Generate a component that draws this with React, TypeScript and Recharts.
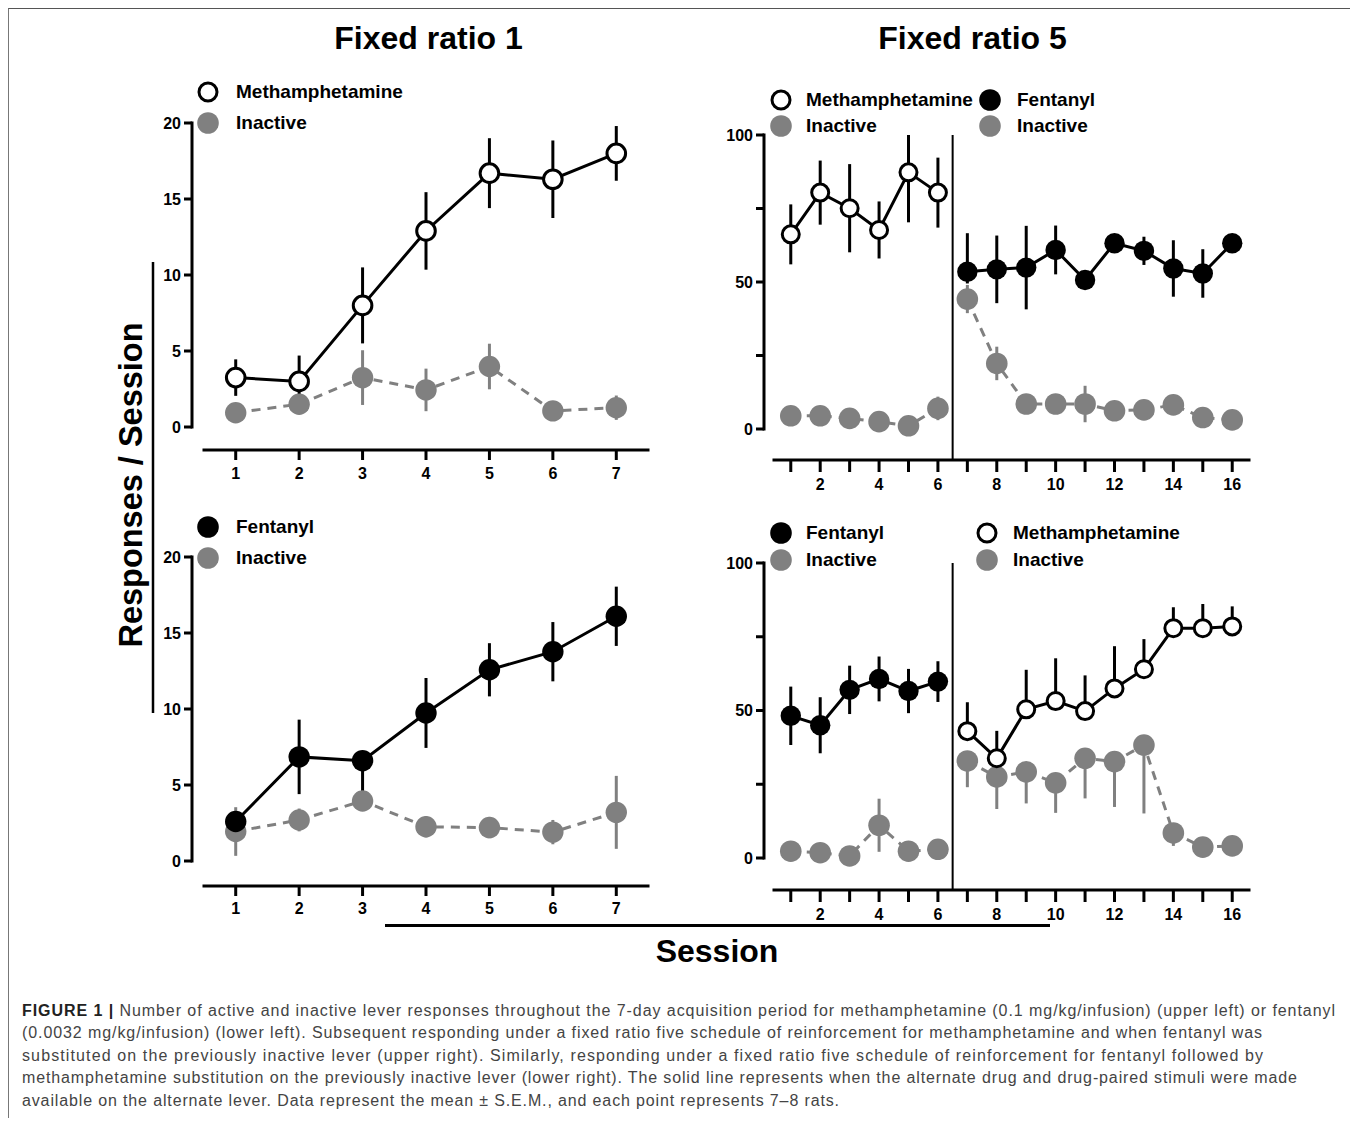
import React from "react";
import { ComposedChart, Line, XAxis, YAxis, ErrorBar, ReferenceLine } from "recharts";

const FONT = '"Liberation Sans", Arial, Helvetica, sans-serif';
const GRAY = "#808080";

// ---- Fixed ratio 1 (7-day acquisition) ----
const fr1Sessions = [1, 2, 3, 4, 5, 6, 7];
const fr1MethActive = [3.25, 3.0, 8.0, 12.9, 16.7, 16.3, 18.0];
const fr1MethActiveSem = [1.2, 1.7, 2.5, 2.55, 2.3, 2.55, 1.8];
const fr1MethInactive = [0.94, 1.5, 3.25, 2.44, 3.98, 1.06, 1.27];
const fr1MethInactiveSem = [0.4, 0.5, 1.8, 1.4, 1.5, 0.4, 0.8];

const fr1FentActive = [2.6, 6.85, 6.6, 9.74, 12.58, 13.77, 16.1];
const fr1FentActiveSemDown = [0.5, 2.45, 2.2, 2.3, 1.75, 1.95, 1.95];
const fr1FentActiveSemUp = [0.5, 2.45, 0, 2.3, 1.75, 1.95, 1.95];
const fr1FentInactive = [1.94, 2.7, 3.95, 2.25, 2.2, 1.9, 3.2];
const fr1FentInactiveSem = [1.6, 0.75, 0.5, 0.7, 0.7, 0.8, 2.4];

// ---- Fixed ratio 5 (baseline 1-6, substitution 7-16) ----
const fr5BaseSessions = [1, 2, 3, 4, 5, 6];
const fr5SubSessions = [7, 8, 9, 10, 11, 12, 13, 14, 15, 16];

// upper right: methamphetamine, then fentanyl substituted
const trMeth = [66.2, 80.4, 75.1, 67.7, 87.3, 80.4];
const trMethSem = [10.2, 10.9, 15.0, 9.7, 17.0, 11.9];
const trMethInactive = [4.5, 4.5, 3.6, 2.5, 1.1, 7.0];
const trMethInactiveSem = [1.5, 1.5, 1.5, 1.5, 1.0, 4.0];
const trFent = [53.5, 54.3, 54.9, 60.9, 50.7, 63.2, 60.6, 54.6, 52.9, 63.2];
const trFentSemDown = [4.0, 11.5, 14.2, 8.3, 2.0, 2.0, 4.8, 9.6, 8.25, 2.5];
const trFentSemUp = [13.1, 11.5, 14.2, 8.3, 2.0, 2.0, 4.8, 9.6, 8.25, 2.5];
const trFentInactive = [44.2, 22.3, 8.5, 8.5, 8.5, 6.2, 6.5, 8.2, 3.9, 3.1];
const trFentInactiveSem = [4.8, 5.7, 2.0, 2.0, 6.2, 2.0, 2.0, 2.0, 2.0, 1.5];

// lower right: fentanyl, then methamphetamine substituted
const brFent = [48.2, 45.0, 57.0, 60.7, 56.6, 59.8];
const brFentSem = [9.9, 9.5, 8.2, 7.6, 7.5, 6.9];
const brFentInactive = [2.3, 1.8, 0.7, 11.1, 2.3, 2.95];
const brFentInactiveSem = [1.0, 1.0, 0.6, 9.0, 1.0, 1.0];
const brMeth = [43.0, 33.8, 50.4, 53.2, 49.8, 57.5, 64.0, 77.9, 77.9, 78.5];
const brMethSemUp = [9.8, 9.3, 13.4, 14.5, 12.1, 14.3, 10.2, 7.1, 8.2, 6.8];
const brMethSemDown = [0, 0, 0, 0, 0, 0, 0, 0, 0, 0];
const brMethInactive = [32.9, 27.5, 29.2, 25.5, 33.8, 32.7, 38.3, 8.5, 3.7, 4.1];
const brMethInactiveSemDown = [8.9, 10.9, 10.7, 10.2, 13.6, 15.4, 23.2, 4.4, 1.0, 1.0];
const brMethInactiveSemUp = [0, 0, 0, 0, 0, 0, 0, 0, 0, 0];

const fr1Ticks = [1, 2, 3, 4, 5, 6, 7];
const fr5Ticks = [1, 2, 3, 4, 5, 6, 7, 8, 9, 10, 11, 12, 13, 14, 15, 16];
const fr1YTicks = [0, 5, 10, 15, 20];
const fr5YTicks = [0, 25, 50, 75, 100];
const fr5YLabelled = [0, 50, 100];

const captionLines = [
  "Number of active and inactive lever responses throughout the 7-day acquisition period for methamphetamine (0.1 mg/kg/infusion) (upper left) or fentanyl",
  "(0.0032 mg/kg/infusion) (lower left). Subsequent responding under a fixed ratio five schedule of reinforcement for methamphetamine and when fentanyl was",
  "substituted on the previously inactive lever (upper right). Similarly, responding under a fixed ratio five schedule of reinforcement for fentanyl followed by",
  "methamphetamine substitution on the previously inactive lever (lower right). The solid line represents when the alternate drug and drug-paired stimuli were made",
  "available on the alternate lever. Data represent the mean ± S.E.M., and each point represents 7–8 rats.",
];

type Row = { session: number; value: number; err: [number, number] };

const rows = (
  sessions: number[],
  values: number[],
  down: number[],
  up: number[] = down,
  max = Infinity
): Row[] =>
  sessions.map((s, i) => ({
    session: s,
    value: values[i],
    err: [Math.min(down[i], values[i]), Math.min(up[i], max - values[i])],
  }));

type Kind = "open" | "filled" | "inactive";
type Series = { kind: Kind; data: Row[] };
type Sizes = { open: number; filled: number; inactive: number };

const Y_W = 60;
const X_H = 40;
const M_T = 20;
const M_R = 12;

const axisLine = { stroke: "#000", strokeWidth: 3, strokeLinecap: "square" as const };
const tickLine = { stroke: "#000", strokeWidth: 3 };
const tickText = { fill: "#000", fontSize: 16, fontWeight: 700, fontFamily: FONT };

type PanelProps = {
  x: number;
  y: number;
  plotW: number;
  plotH: number;
  gapX: number;
  gapY: number;
  xDomain: [number, number];
  xTicks: number[];
  xLabelEven?: boolean;
  yMax: number;
  yTicks: number[];
  yLabelled: number[];
  tickLen: number;
  xTickMargin: number;
  sizes: Sizes;
  series: Series[];
  divider?: number;
};

function Panel(p: PanelProps) {
  const width = Y_W + p.gapY + p.plotW + M_R;
  const height = M_T + p.plotH + p.gapX + X_H;
  const left = p.x - p.gapY - Y_W - 8;
  const top = p.y - M_T - 8;
  const below = -(p.gapX * p.yMax) / p.plotH;

  return (
    <div style={{ position: "absolute", left, top }}>
      <ComposedChart width={width} height={height} margin={{ top: M_T, right: M_R, bottom: 0, left: 0 }}>
        <XAxis
          xAxisId="gap"
          dataKey="session"
          type="number"
          domain={p.xDomain}
          height={p.gapX}
          tick={false}
          tickLine={false}
          axisLine={false}
        />
        <XAxis
          xAxisId="main"
          dataKey="session"
          type="number"
          domain={p.xDomain}
          ticks={p.xTicks}
          interval={0}
          height={X_H}
          tickSize={p.tickLen}
          tickMargin={p.xTickMargin}
          tickFormatter={(v: number) => (p.xLabelEven && v % 2 !== 0 ? "" : String(v))}
          axisLine={axisLine}
          tickLine={tickLine}
          tick={tickText}
        />
        <YAxis
          yAxisId="gap"
          type="number"
          domain={[0, p.yMax]}
          width={p.gapY}
          tick={false}
          tickLine={false}
          axisLine={false}
        />
        <YAxis
          yAxisId="main"
          type="number"
          domain={[0, p.yMax]}
          ticks={p.yTicks}
          interval={0}
          width={Y_W}
          tickSize={8}
          tickMargin={3}
          tickFormatter={(v: number) => (p.yLabelled.includes(v) ? String(v) : "")}
          axisLine={axisLine}
          tickLine={tickLine}
          tick={tickText}
        />
        {p.divider !== undefined && (
          <ReferenceLine
            xAxisId="main"
            yAxisId="main"
            segment={[
              { x: p.divider, y: p.yMax },
              { x: p.divider, y: below },
            ]}
            stroke="#000"
            strokeWidth={2}
            ifOverflow="visible"
          />
        )}
        {p.series.map((s, i) => {
          const color = s.kind === "inactive" ? GRAY : "#000";
          const dot =
            s.kind === "open"
              ? { r: p.sizes.open, fill: "#fff", stroke: "#000", strokeWidth: 3, strokeDasharray: "" }
              : { r: s.kind === "filled" ? p.sizes.filled : p.sizes.inactive, fill: color, stroke: "none", strokeDasharray: "" };
          return (
            <Line
              key={i}
              data={s.data}
              dataKey="value"
              xAxisId="main"
              yAxisId="main"
              type="linear"
              stroke={color}
              strokeWidth={3}
              strokeDasharray={s.kind === "inactive" ? "9 7" : undefined}
              dot={dot}
              activeDot={false}
              legendType="none"
              isAnimationActive={false}
            >
              <ErrorBar dataKey="err" direction="y" width={0} stroke={color} strokeWidth={3} />
            </Line>
          );
        })}
      </ComposedChart>
    </div>
  );
}

function LegendEntry({ cx, cy, kind, r, label, textX }: { cx: number; cy: number; kind: Kind; r: number; label: string; textX: number }) {
  return (
    <>
      <svg width={30} height={30} style={{ position: "absolute", left: cx - 8 - 15, top: cy - 8 - 15 }}>
        {kind === "open" ? (
          <circle cx={15} cy={15} r={r - 1.5} fill="#fff" stroke="#000" strokeWidth={3} />
        ) : (
          <circle cx={15} cy={15} r={r} fill={kind === "filled" ? "#000" : GRAY} />
        )}
      </svg>
      <div
        style={{
          position: "absolute",
          left: textX - 8,
          top: cy - 8 - 12,
          height: 24,
          lineHeight: "24px",
          fontSize: 19,
          fontWeight: 700,
          fontFamily: FONT,
          color: "#000",
          whiteSpace: "nowrap",
        }}
      >
        {label}
      </div>
    </>
  );
}

const fr1Sizes = { open: 9.3, filled: 10.7, inactive: 10.7 };
const fr5Sizes = { open: 8.5, filled: 10.2, inactive: 10.8 };

export default function App() {
  const captionEnds = [1335, 1262, 1263, 1297, 839];
  return (
    <div style={{ position: "relative", width: 1348, height: 1110, fontFamily: FONT, background: "#fff" }}>
      <div
        style={{
          position: "absolute",
          left: 0,
          top: 0,
          width: 1348,
          height: 1110,
          boxSizing: "border-box",
          borderTop: "1.5px solid #555",
          borderLeft: "1px solid #777",
          borderRight: "2px solid #999",
        }}
      />
      <svg width={1348} height={1110} style={{ position: "absolute", left: 0, top: 0 }}>
        <g fontFamily={FONT} fontWeight={700} fill="#000">
          <text x={428.5 - 8} y={48.5 - 8} textAnchor="middle" fontSize={32}>
            Fixed ratio 1
          </text>
          <text x={972.5 - 8} y={48.5 - 8} textAnchor="middle" fontSize={32}>
            Fixed ratio 5
          </text>
          <text transform={`translate(${141.5 - 8}, ${485 - 8}) rotate(-90)`} textAnchor="middle" fontSize={32.5}>
            Responses / Session
          </text>
          <text x={717 - 8} y={961.5 - 8} textAnchor="middle" fontSize={32}>
            Session
          </text>
        </g>
        <line x1={153 - 8} y1={262 - 8} x2={153 - 8} y2={713 - 8} stroke="#000" strokeWidth={2.5} />
        <line x1={385 - 8} y1={925.5 - 8} x2={1050 - 8} y2={925.5 - 8} stroke="#000" strokeWidth={3} />
        <g fontFamily={FONT} fontSize={16} fill="#444">
          {captionLines.map((line, i) => (
            <text
              key={i}
              x={22 - 8}
              y={1015.6 + i * 22.5 - 8}
              textLength={captionEnds[i] - 22}
              lengthAdjust="spacing"
            >
              {i === 0 && <tspan fontWeight={700} fill="#222">FIGURE 1 | </tspan>}
              {line}
            </text>
          ))}
        </g>
      </svg>

      <Panel
        x={204}
        y={123}
        plotW={444}
        plotH={304}
        gapX={23}
        gapY={12}
        xDomain={[0.5, 7.5]}
        xTicks={fr1Ticks}
        yMax={20}
        yTicks={fr1YTicks}
        yLabelled={fr1YTicks}
        tickLen={10}
        xTickMargin={8}
        sizes={fr1Sizes}
        series={[
          { kind: "inactive", data: rows(fr1Sessions, fr1MethInactive, fr1MethInactiveSem) },
          { kind: "open", data: rows(fr1Sessions, fr1MethActive, fr1MethActiveSem) },
        ]}
      />
      <Panel
        x={204}
        y={557}
        plotW={444}
        plotH={304}
        gapX={25}
        gapY={12}
        xDomain={[0.5, 7.5]}
        xTicks={fr1Ticks}
        yMax={20}
        yTicks={fr1YTicks}
        yLabelled={fr1YTicks}
        tickLen={10}
        xTickMargin={7}
        sizes={fr1Sizes}
        series={[
          { kind: "inactive", data: rows(fr1Sessions, fr1FentInactive, fr1FentInactiveSem) },
          { kind: "filled", data: rows(fr1Sessions, fr1FentActive, fr1FentActiveSemDown, fr1FentActiveSemUp) },
        ]}
      />
      <Panel
        x={774}
        y={135}
        plotW={475}
        plotH={294}
        gapX={31}
        gapY={10}
        xDomain={[0.43, 16.57]}
        xTicks={fr5Ticks}
        xLabelEven
        yMax={100}
        yTicks={fr5YTicks}
        yLabelled={fr5YLabelled}
        tickLen={12}
        xTickMargin={7}
        sizes={fr5Sizes}
        divider={6.5}
        series={[
          { kind: "inactive", data: rows(fr5BaseSessions, trMethInactive, trMethInactiveSem) },
          { kind: "inactive", data: rows(fr5SubSessions, trFentInactive, trFentInactiveSem) },
          { kind: "open", data: rows(fr5BaseSessions, trMeth, trMethSem, trMethSem, 100) },
          { kind: "filled", data: rows(fr5SubSessions, trFent, trFentSemDown, trFentSemUp) },
        ]}
      />
      <Panel
        x={774}
        y={563}
        plotW={475}
        plotH={295}
        gapX={32}
        gapY={10}
        xDomain={[0.43, 16.57]}
        xTicks={fr5Ticks}
        xLabelEven
        yMax={100}
        yTicks={fr5YTicks}
        yLabelled={fr5YLabelled}
        tickLen={12}
        xTickMargin={7}
        sizes={fr5Sizes}
        divider={6.5}
        series={[
          { kind: "inactive", data: rows(fr5BaseSessions, brFentInactive, brFentInactiveSem) },
          { kind: "inactive", data: rows(fr5SubSessions, brMethInactive, brMethInactiveSemDown, brMethInactiveSemUp) },
          { kind: "filled", data: rows(fr5BaseSessions, brFent, brFentSem) },
          { kind: "open", data: rows(fr5SubSessions, brMeth, brMethSemDown, brMethSemUp) },
        ]}
      />

      <LegendEntry cx={208} cy={92} kind="open" r={10.5} label="Methamphetamine" textX={236} />
      <LegendEntry cx={208} cy={123} kind="inactive" r={10.8} label="Inactive" textX={236} />
      <LegendEntry cx={208} cy={527} kind="filled" r={10.8} label="Fentanyl" textX={236} />
      <LegendEntry cx={208} cy={558} kind="inactive" r={10.8} label="Inactive" textX={236} />

      <LegendEntry cx={781} cy={100} kind="open" r={10.5} label="Methamphetamine" textX={806} />
      <LegendEntry cx={781} cy={126} kind="inactive" r={10.8} label="Inactive" textX={806} />
      <LegendEntry cx={990} cy={100} kind="filled" r={10.8} label="Fentanyl" textX={1017} />
      <LegendEntry cx={990} cy={126} kind="inactive" r={10.8} label="Inactive" textX={1017} />

      <LegendEntry cx={781} cy={533} kind="filled" r={10.8} label="Fentanyl" textX={806} />
      <LegendEntry cx={781} cy={560} kind="inactive" r={10.8} label="Inactive" textX={806} />
      <LegendEntry cx={987} cy={533} kind="open" r={10.5} label="Methamphetamine" textX={1013} />
      <LegendEntry cx={987} cy={560} kind="inactive" r={10.8} label="Inactive" textX={1013} />
    </div>
  );
}
